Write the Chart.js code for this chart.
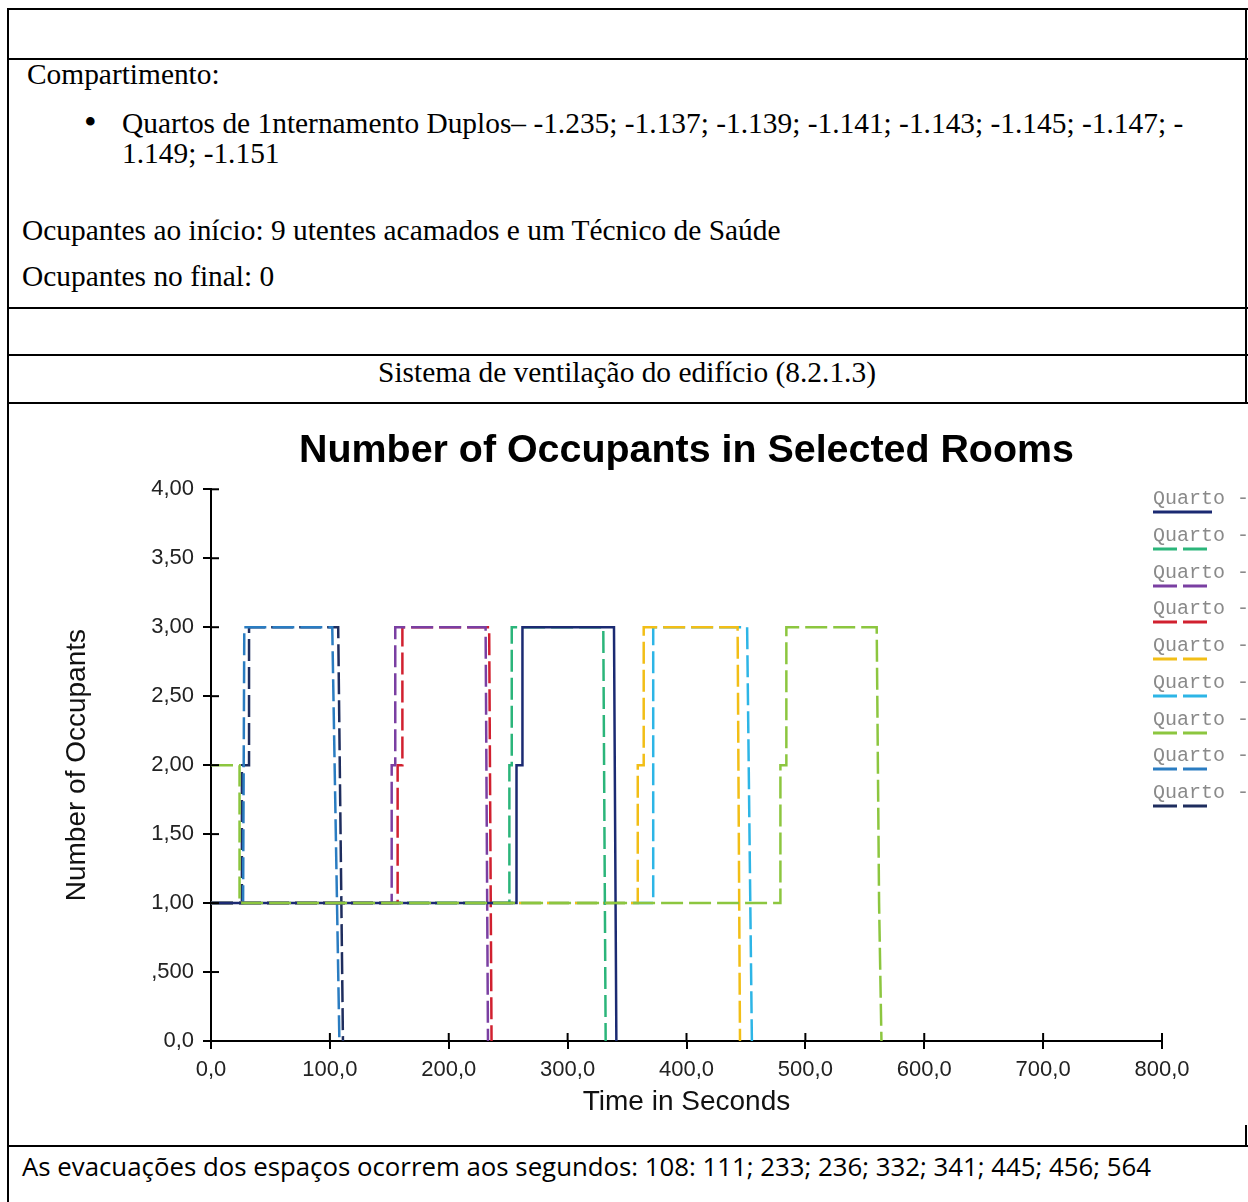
<!DOCTYPE html>
<html>
<head>
<meta charset="utf-8">
<script src="https://cdn.jsdelivr.net/npm/chart.js@4.4.1/dist/chart.umd.min.js"></script>
<style>
  html, body { margin: 0; padding: 0; background: #fff; overflow: hidden; }
  body { width: 1248px; height: 1202px; position: relative; }
  .hl { position: absolute; height: 2px; background: #000; }
  .vl { position: absolute; width: 2px; background: #000; }
  .serif { position: absolute; font-family: "Liberation Serif", "Times New Roman", serif; font-size: 29.4px; line-height: 32px; color: #000; white-space: nowrap; }
  .sans { position: absolute; font-family: "Open Sans", "Noto Sans", sans-serif; font-size: 25.8px; line-height: 26px; color: #000; white-space: nowrap; }
  #chartBox { position: absolute; left: 9px; top: 404px; }
  .leg { position: absolute; font-family: "Liberation Mono", "Courier New", monospace; font-size: 20px; line-height: 20px; color: #8a8a8a; white-space: nowrap; }
  .legLine { position: absolute; }
</style>
</head>
<body>

<!-- table lines -->
<div class="hl" style="left:7px; top:8px; width:1241px;"></div>
<div class="hl" style="left:7px; top:58px; width:1241px;"></div>
<div class="hl" style="left:7px; top:307px; width:1241px;"></div>
<div class="hl" style="left:7px; top:354px; width:1241px;"></div>
<div class="hl" style="left:7px; top:402px; width:1241px;"></div>
<div class="hl" style="left:7px; top:1145px; width:1241px;"></div>
<div class="vl" style="left:7px; top:8px; height:1194px;"></div>
<div class="vl" style="left:1245px; top:8px; height:396px;"></div>
<div class="vl" style="left:1245px; top:1125px; height:22px;"></div>

<div class="serif" style="left:27px; top:58px;">Compartimento:</div>
<div class="serif" style="left:84px; top:106px; font-size:36px;">•</div>
<div class="serif" style="left:122px; top:107px;">Quartos de 1nternamento Duplos– -1.235; -1.137; -1.139; -1.141; -1.143; -1.145; -1.147; -</div>
<div class="serif" style="left:122px; top:137px;">1.149; -1.151</div>
<div class="serif" style="left:22px; top:214px;">Ocupantes ao início: 9 utentes acamados e um Técnico de Saúde</div>
<div class="serif" style="left:22px; top:260px;">Ocupantes no final: 0</div>
<div class="serif" style="left:0; width:1254px; text-align:center; top:356px;">Sistema de ventilação do edifício (8.2.1.3)</div>

<div id="chartBox"><canvas id="occChart" width="1239" height="741"></canvas></div>
<div id="legend"></div>

<div class="sans" style="left:22px; top:1153px;">As evacuações dos espaços ocorrem aos segundos: 108: 111; 233; 236; 332; 341; 445; 456; 564</div>

<script>
// data (time in s, occupants)
const roomNames = ['Quarto -', 'Quarto -', 'Quarto -', 'Quarto -', 'Quarto -', 'Quarto -', 'Quarto -', 'Quarto -', 'Quarto -'];
const roomColors = ['#1b2a72', '#2bb57a', '#7a3fa2', '#d1202f', '#f2be16', '#2db5e6', '#8cc63f', '#2a7cc1', '#1e2d5e'];
const roomDashed = [false, true, true, true, true, true, true, true, true];

const q1Time = [0, 257, 257, 262, 262, 339, 341];
const q1Occ  = [1, 1, 2, 2, 3, 3, 0];
const q2Time = [0, 251, 251, 253, 253, 330, 332];
const q2Occ  = [1, 1, 2, 2, 3, 3, 0];
const q3Time = [0, 152, 152, 155, 155, 231, 233];
const q3Occ  = [1, 1, 2, 2, 3, 3, 0];
const q4Time = [0, 157, 157, 161, 161, 234, 236];
const q4Occ  = [1, 1, 2, 2, 3, 3, 0];
const q5Time = [0, 359, 359, 364, 364, 443, 445];
const q5Occ  = [1, 1, 2, 2, 3, 3, 0];
const q6Time = [0, 372, 372, 451, 455];
const q6Occ  = [1, 1, 3, 3, 0];
const q7Time = [0, 24, 24, 479, 479, 484, 484, 560, 562, 564];
const q7Occ  = [2, 2, 1, 1, 2, 2, 3, 3, 1, 0];
const q8Time = [0, 27, 28, 102, 108];
const q8Occ  = [1, 1, 3, 3, 0];
const q9Time = [0, 26, 26, 32, 32, 107, 111];
const q9Occ  = [1, 1, 2, 2, 3, 3, 0];

const roomTimes = [q1Time, q2Time, q3Time, q4Time, q5Time, q6Time, q7Time, q8Time, q9Time];
const roomOccs  = [q1Occ, q2Occ, q3Occ, q4Occ, q5Occ, q6Occ, q7Occ, q8Occ, q9Occ];

const xTickLabels = ['0,0', '100,0', '200,0', '300,0', '400,0', '500,0', '600,0', '700,0', '800,0'];
const yTickLabels = ['0,0', ',500', '1,00', '1,50', '2,00', '2,50', '3,00', '3,50', '4,00'];

const dash = [22, 6];

const datasets = roomNames.map((name, i) => ({
  label: name,
  data: roomTimes[i].map((t, k) => ({ x: t, y: roomOccs[i][k] })),
  borderColor: roomColors[i],
  borderWidth: 2.5,
  borderDash: roomDashed[i] ? dash : [],
  pointRadius: 0,
  tension: 0,
  fill: false,
  order: i === 6 ? -1 : i
}));

// ticks in the reference cross the axis line, so draw the inner half too
const crossTicks = {
  id: 'crossTicks',
  afterDraw(chart) {
    const { ctx, scales: { x, y } } = chart;
    ctx.save();
    ctx.strokeStyle = '#000';
    ctx.lineWidth = 2;
    x.ticks.forEach(t => {
      const px = x.getPixelForValue(t.value);
      ctx.beginPath(); ctx.moveTo(px, y.bottom); ctx.lineTo(px, y.bottom - 8); ctx.stroke();
    });
    y.ticks.forEach(t => {
      const py = y.getPixelForValue(t.value);
      ctx.beginPath(); ctx.moveTo(x.left, py); ctx.lineTo(x.left + 8, py); ctx.stroke();
    });
    ctx.restore();
  }
};

new Chart(document.getElementById('occChart'), {
  type: 'line',
  data: { datasets },
  options: {
    responsive: false,
    animation: false,
    devicePixelRatio: 1,
    events: [],
    layout: { padding: { left: 0, right: 86, top: 0, bottom: 0 } },
    plugins: {
      legend: { display: false },
      tooltip: { enabled: false },
      title: {
        display: true,
        fullSize: false,
        text: 'Number of Occupants in Selected Rooms',
        color: '#000',
        font: { family: 'Liberation Sans', size: 39.4, weight: 'bold' },
        padding: { top: 24, bottom: 14 }
      }
    },
    scales: {
      x: {
        type: 'linear',
        min: 0,
        max: 800,
        afterFit(scale) { scale.height = 104; },
        border: { display: true, color: '#000', width: 2 },
        grid: { drawOnChartArea: false, drawTicks: true, tickLength: 8, color: '#000', lineWidth: 2 },
        ticks: {
          stepSize: 100,
          padding: 8,
          color: '#222',
          font: { family: 'Liberation Sans', size: 22 },
          maxRotation: 0,
          autoSkip: false,
          callback: v => xTickLabels[Math.round(v / 100)]
        },
        title: {
          display: true,
          text: 'Time in Seconds',
          color: '#111',
          font: { family: 'Liberation Sans', size: 28 },
          padding: { top: 0, bottom: 26 }
        }
      },
      y: {
        type: 'linear',
        min: 0,
        max: 4,
        afterFit(scale) { scale.width = 202; },
        border: { display: true, color: '#000', width: 2 },
        grid: { drawOnChartArea: false, drawTicks: true, tickLength: 8, color: '#000', lineWidth: 2 },
        ticks: {
          stepSize: 0.5,
          padding: 9,
          color: '#222',
          font: { family: 'Liberation Sans', size: 22 },
          autoSkip: false,
          callback: v => yTickLabels[Math.round(v / 0.5)]
        },
        title: {
          display: true,
          text: 'Number of Occupants',
          color: '#111',
          font: { family: 'Liberation Sans', size: 28 },
          padding: { top: 51, bottom: 0 }
        }
      }
    }
  },
  plugins: [crossTicks]
});

// legend to the right of the plot: label text with a line sample under it
const legend = document.getElementById('legend');
roomNames.forEach((name, i) => {
  const rowY = 512 + 36.75 * i;
  const txt = document.createElement('div');
  txt.className = 'leg';
  txt.style.left = '1153px';
  txt.style.top = (rowY - 23) + 'px';
  txt.textContent = name;
  legend.appendChild(txt);
  const svgNS = 'http://www.w3.org/2000/svg';
  const svg = document.createElementNS(svgNS, 'svg');
  svg.setAttribute('class', 'legLine');
  svg.setAttribute('width', '60');
  svg.setAttribute('height', '6');
  svg.style.left = '1153px';
  svg.style.top = (rowY - 3) + 'px';
  const ln = document.createElementNS(svgNS, 'line');
  ln.setAttribute('x1', '0'); ln.setAttribute('y1', '3');
  ln.setAttribute('x2', '59'); ln.setAttribute('y2', '3');
  ln.setAttribute('stroke', roomColors[i]);
  ln.setAttribute('stroke-width', '3');
  if (roomDashed[i]) ln.setAttribute('stroke-dasharray', '24 6');
  svg.appendChild(ln);
  legend.appendChild(svg);
});
</script>
</body>
</html>
